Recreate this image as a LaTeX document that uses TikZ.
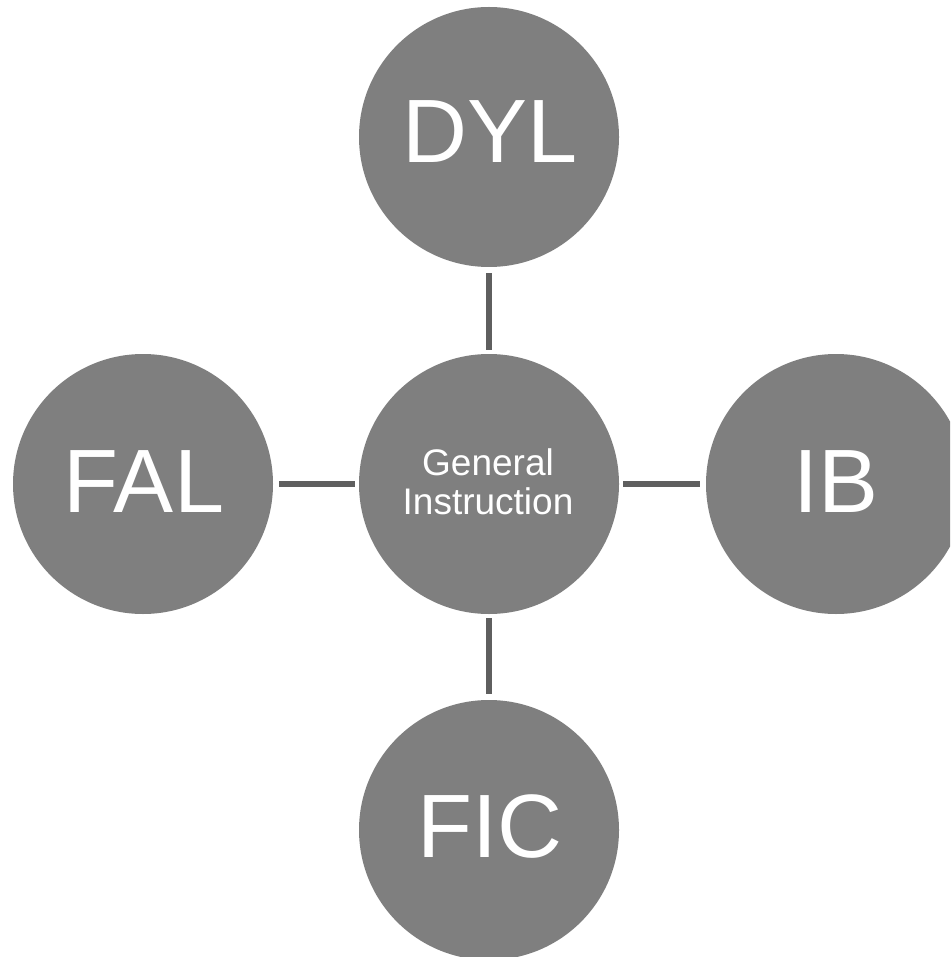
\documentclass[tikz,border=0pt]{standalone}
\usepackage{fontspec}
\setmainfont{Liberation Sans}
\definecolor{bubble}{HTML}{7F7F7F}
\definecolor{link}{HTML}{5F5F5F}
\begin{document}
\begin{tikzpicture}[x=1pt,y=-1pt,
  bubble/.style={circle,fill=bubble,draw=none,minimum size=260pt,inner sep=0pt},
  big/.style={anchor=base,text=white,inner sep=0pt,font=\fontsize{90}{90}\selectfont},
  small/.style={anchor=base,text=white,inner sep=0pt,font=\fontsize{37}{39}\selectfont},
  linkline/.style={draw=link,line width=6pt,shorten <=4pt,shorten >=6pt}]
\useasboundingbox (0,0) rectangle (950,957);
\clip (0,0) rectangle (950,957);
\node[bubble] (c) at (489,484) {};
\node[bubble] (dyl) at (489,137) {};
\node[bubble] (fal) at (143,484) {};
\node[bubble] (ib) at (836,484) {};
\node[bubble] (fic) at (489,830) {};
\draw[linkline] (c.north) -- (dyl.south);
\draw[linkline] (c.west) -- (fal.east);
\draw[linkline] (c.east) -- (ib.west);
\draw[linkline] (c.south) -- (fic.north);
\node[big] (dylt) at (490,163) {DYL};
\node[big] (falt) at (144,512) {FAL};
\node[big] (ibt) at (836,512) {IB};
\node[big] (fict) at (490,857) {FIC};
\node[small] (g1) at (488,475) {General};
\node[small] (g2) at (488,514) {Instruction};
\end{tikzpicture}
\end{document}
